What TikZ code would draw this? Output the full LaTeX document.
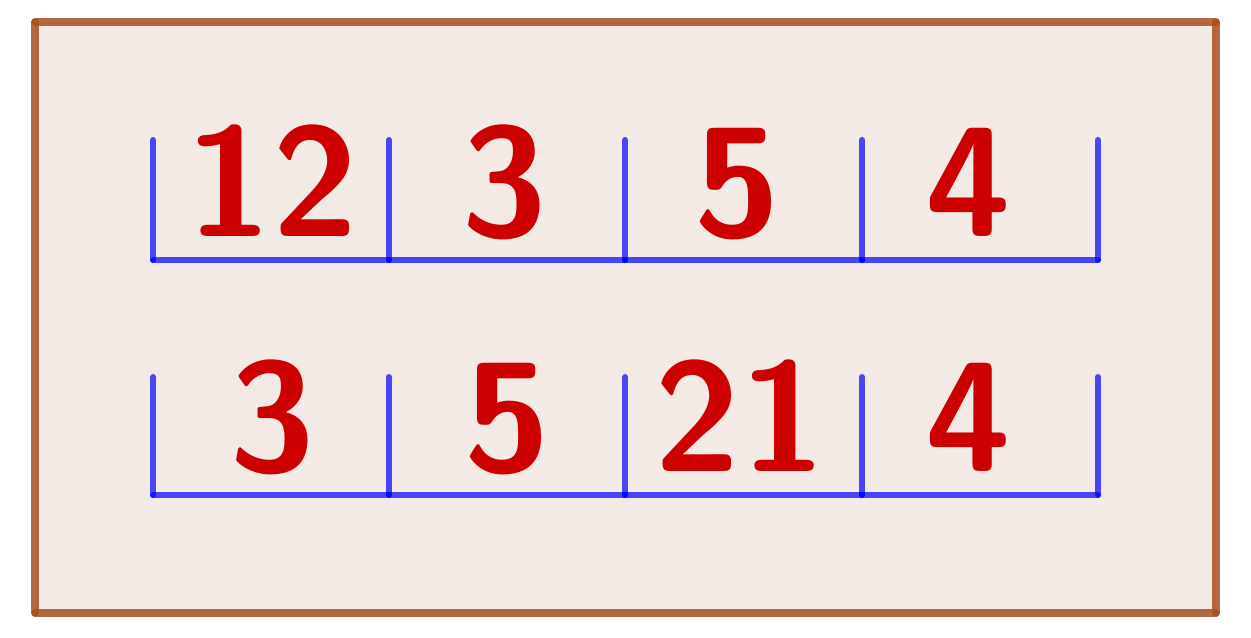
\documentclass[tikz,border=0pt]{standalone}
\usepackage{tikz}

\definecolor{boxbrown}{RGB}{168,78,34}
\definecolor{boxfill}{RGB}{243,234,229}
\definecolor{numred}{RGB}{204,0,0}

\tikzset{
  frameline/.style={draw=boxbrown, draw opacity=0.85, line width=3.6pt, line cap=round},
  cellline/.style={draw=blue, draw opacity=0.7, line width=3pt, line cap=round},
  cellnum/.style={anchor=base, inner sep=0pt, text=numred, font=\fontsize{78}{88}\sffamily\bfseries\selectfont}
}

\begin{document}
\begin{tikzpicture}[x=0.5pt,y=0.5pt,yscale=-1,xscale=1]
\useasboundingbox (0,0) rectangle (1251,637);

%Shape: Frame
\fill [boxfill] (35,22) rectangle (1216,613);
\draw [frameline] (35,22) -- (1216,22);
\draw [frameline] (1216,22) -- (1216,613);
\draw [frameline] (1216,613) -- (35,613);
\draw [frameline] (35,613) -- (35,22);

%Straight Lines: upper row
\draw [cellline] (153,140) -- (153,260);
\draw [cellline] (389,140) -- (389,260);
\draw [cellline] (625,140) -- (625,260);
\draw [cellline] (862,140) -- (862,260);
\draw [cellline] (1098,140) -- (1098,260);
\draw [cellline] (153,260) -- (389,260);
\draw [cellline] (389,260) -- (625,260);
\draw [cellline] (625,260) -- (862,260);
\draw [cellline] (862,260) -- (1098,260);

%Straight Lines: lower row
\draw [cellline] (153,377) -- (153,495);
\draw [cellline] (389,377) -- (389,495);
\draw [cellline] (625,377) -- (625,495);
\draw [cellline] (862,377) -- (862,495);
\draw [cellline] (1098,377) -- (1098,495);
\draw [cellline] (153,495) -- (389,495);
\draw [cellline] (389,495) -- (625,495);
\draw [cellline] (625,495) -- (862,495);
\draw [cellline] (862,495) -- (1098,495);

% Text Node
\node [cellnum] (upA) at (272,236) {12};
% Text Node
\node [cellnum] (upB) at (504,236) {3};
% Text Node
\node [cellnum] (upC) at (737,236) {5};
% Text Node
\node [cellnum] (upD) at (968,236) {4};
% Text Node
\node [cellnum] (loA) at (272,471) {3};
% Text Node
\node [cellnum] (loB) at (507,471) {5};
% Text Node
\node [cellnum] (loC) at (740,471) {21};
% Text Node
\node [cellnum] (loD) at (968,471) {4};

\end{tikzpicture}
\end{document}
